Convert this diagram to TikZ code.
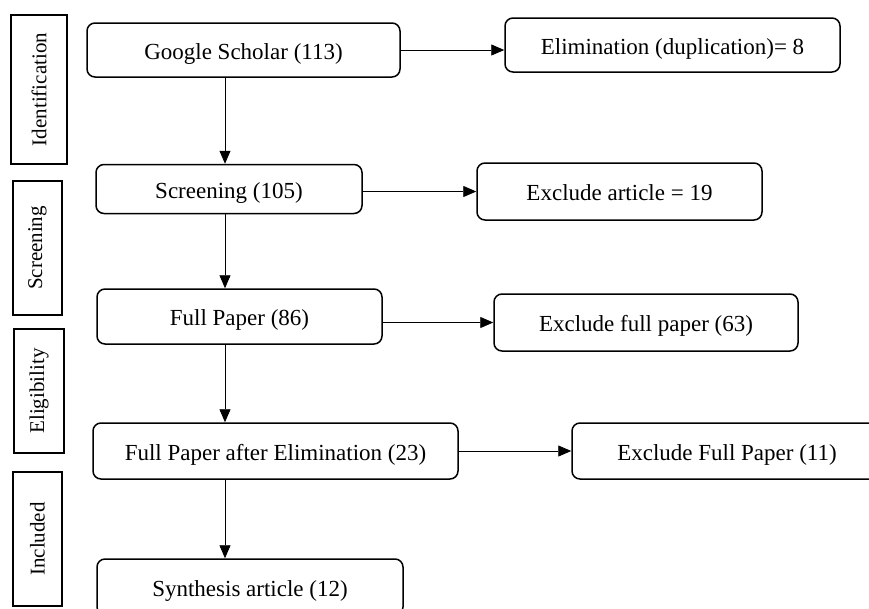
\documentclass[tikz,border=0pt]{standalone}
\usepackage{fontspec}
\setmainfont{Liberation Serif}
\usepackage{tikz}
\usetikzlibrary{shapes,arrows.meta}
\tikzset{
  stagebox/.style={draw, rounded corners=8pt, line width=1.5pt, align=center,
    inner sep=0pt, text height=18pt, text depth=0pt,
    font=\fontsize{23}{27}\selectfont},
  phasebox/.style={draw, line width=1.8pt, rotate=90, inner sep=0pt,
    font=\fontsize{21}{25}\selectfont},
  flow/.style={line width=0.9pt, -{Triangle[length=13pt,width=11pt]}}
}

\begin{document}
\begin{tikzpicture}[x=1pt, y=-1pt]
  \clip (0,0) rectangle (869,608);
  \fill[white] (0,0) rectangle (869,608);
  \coordinate (spine) at (225,0);
  \node [phasebox, minimum width=149, minimum height=56] (ident) at (39,89.5) {Identification};
  \node [phasebox, minimum width=134, minimum height=49] (screenph) at (37.5,248) {Screening};
  \node [phasebox, minimum width=124, minimum height=50] (elig) at (39,391) {Eligibility};
  \node [phasebox, minimum width=134, minimum height=49] (incl) at (37.5,539) {Included};
  \node [stagebox, minimum width=313, minimum height=54] (scholar) at (243.5,50) {Google Scholar (113)};
  \node [stagebox, minimum width=266, minimum height=49] (screen) at (229,189) {Screening (105)};
  \node [stagebox, minimum width=285, minimum height=55] (full) at (239.5,316.5) {Full Paper (86)};
  \node [stagebox, minimum width=365, minimum height=56] (after) at (275.5,451) {Full Paper after Elimination (23)};
  \node [stagebox, minimum width=306, minimum height=56] (synth) at (250,587) {Synthesis article (12)};
  \node [stagebox, minimum width=335, minimum height=54] (elim) at (672.5,45) {Elimination (duplication)= 8};
  \node [stagebox, minimum width=285, minimum height=57] (exart) at (619.5,191.5) {Exclude article = 19};
  \node [stagebox, minimum width=304, minimum height=57] (exfull) at (646,322.5) {Exclude full paper (63)};
  \node [stagebox, minimum width=310, minimum height=56] (exfinal) at (727,451) {Exclude Full Paper (11)};
  \draw [flow] (scholar.south -| spine) -- (screen.north -| spine);
  \draw [flow] (screen.south -| spine) -- (full.north -| spine);
  \draw [flow] (full.south -| spine) -- (after.north -| spine);
  \draw [flow] (after.south -| spine) -- (synth.north -| spine);
  \draw [flow] (scholar.east) -- (scholar.east -| elim.west);
  \draw [flow] (screen.east |- exart.west) -- (exart.west);
  \draw [flow] (full.east |- exfull.west) -- (exfull.west);
  \draw [flow] (after.east) -- (after.east -| exfinal.west);
\end{tikzpicture}
\end{document}
